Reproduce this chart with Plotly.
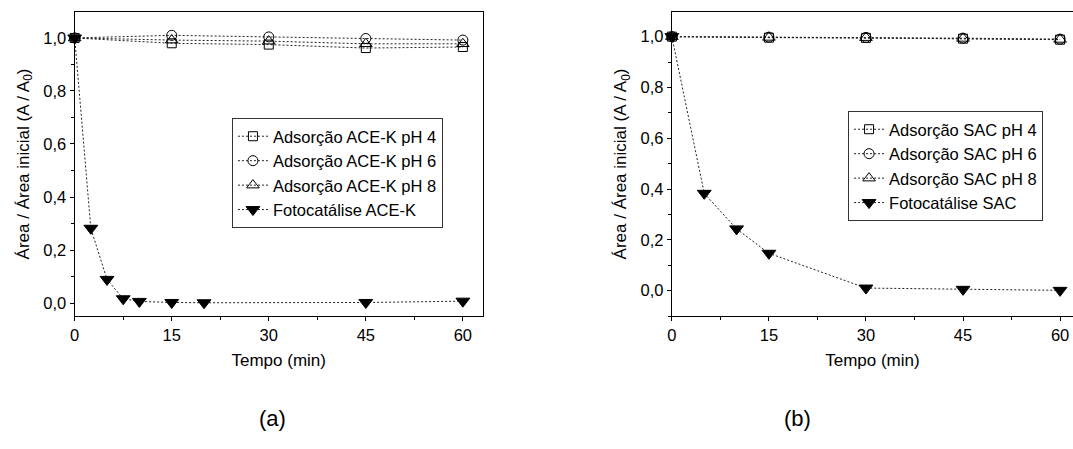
import plotly.graph_objects as go

# ---------------- data ----------------
t_ads = [0, 15, 30, 45, 60]

acek_ph4 = [1.0, 0.980, 0.975, 0.962, 0.966]
acek_ph6 = [1.0, 1.010, 1.004, 0.998, 0.992]
acek_ph8 = [1.0, 0.992, 0.988, 0.978, 0.978]
t_foto_acek = [0, 2.5, 5, 7.5, 10, 15, 20, 45, 60]
foto_acek = [1.0, 0.282, 0.089, 0.016, 0.006, 0.002, 0.001, 0.002, 0.007]

sac_ph4 = [1.0, 0.996, 0.995, 0.992, 0.988]
sac_ph6 = [1.0, 0.998, 0.997, 0.994, 0.990]
sac_ph8 = [1.0, 0.997, 0.996, 0.993, 0.989]
t_foto_sac = [0, 5, 10, 15, 30, 45, 60]
foto_sac = [1.0, 0.383, 0.243, 0.147, 0.010, 0.005, 0.001]

names_a = ["Adsorção ACE-K pH 4", "Adsorção ACE-K pH 6", "Adsorção ACE-K pH 8", "Fotocatálise ACE-K"]
names_b = ["Adsorção SAC pH 4", "Adsorção SAC pH 6", "Adsorção SAC pH 8", "Fotocatálise SAC"]

x_ticks = [0, 15, 30, 45, 60]
y_ticks = [0.0, 0.2, 0.4, 0.6, 0.8, 1.0]

# ---------------- style ----------------
FONT = "Liberation Sans, Arial, sans-serif"
DASH = "2px,2px"
LC = "#222222"
symbols = ["square-open", "circle-open", "triangle-up-open", "triangle-down"]
sizes = [9, 10, 11, 12]

fig = go.Figure()

def add_panel(xs_list, ys_list, names, xa, ya, legend):
    for xs, ys, nm, sym, sz in zip(xs_list, ys_list, names, symbols, sizes):
        fig.add_trace(go.Scatter(
            x=xs, y=ys, name=nm, mode="lines+markers",
            line=dict(color=LC, width=1, dash=DASH),
            marker=dict(symbol=sym, size=sz, color="black",
                        line=dict(color="black", width=1)),
            xaxis=xa, yaxis=ya, legend=legend, cliponaxis=False,
        ))

add_panel([t_ads, t_ads, t_ads, t_foto_acek],
          [acek_ph4, acek_ph6, acek_ph8, foto_acek],
          names_a, "x", "y", "legend")
add_panel([t_ads, t_ads, t_ads, t_foto_sac],
          [sac_ph4, sac_ph6, sac_ph8, foto_sac],
          names_b, "x2", "y2", "legend2")

W, H = 1073, 449
y_dom = [(H - 316) / H, (H - 12) / H]

common_x = dict(
    showline=True, linecolor="black", linewidth=1.3,
    ticks="outside", ticklen=4, tickwidth=1, tickcolor="black",
    tickvals=x_ticks, showgrid=False, zeroline=False,
    minor=dict(dtick=7.5, tick0=0, ticks="outside", ticklen=2.5, tickcolor="black", showgrid=False),
    tickfont=dict(family=FONT, size=16.5, color="black"),
    title=dict(text="Tempo (min)", font=dict(family=FONT, size=17, color="black"), standoff=11),
)
common_y = dict(
    showline=True, linecolor="black", linewidth=1.3,
    ticks="outside", ticklen=4, tickwidth=1, tickcolor="black",
    tickvals=y_ticks, tickformat=".1f", showgrid=False, zeroline=False,
    minor=dict(dtick=0.1, tick0=0, ticks="outside", ticklen=2.5, tickcolor="black", showgrid=False),
    tickfont=dict(family=FONT, size=16.5, color="black"),
    title=dict(text="Área / Área inicial (A / A<sub>0</sub>)",
               font=dict(family=FONT, size=17, color="black"), standoff=9),
    domain=y_dom,
)

fig.update_layout(
    width=W, height=H,
    margin=dict(l=0, r=0, t=0, b=0),
    paper_bgcolor="white", plot_bgcolor="white",
    separators=", ",
    font=dict(family=FONT, size=16, color="black"),
    xaxis=dict(common_x, domain=[70 / W, 480 / W], range=[0, 410 / 6.5], mirror=True, anchor="y"),
    yaxis=dict(common_y, range=[-0.049, 1.098], mirror=True, anchor="x"),
    xaxis2=dict(common_x, domain=[670 / W, 1.0], range=[0, 403 / 6.5], mirror=True, anchor="y2"),
    yaxis2=dict(common_y, range=[-0.1, 1.097], mirror=False, anchor="x2"),
    legend=dict(x=228 / W, y=1 - 118 / H, xanchor="left", yanchor="top",
                bgcolor="white", bordercolor="#333333", borderwidth=1,
                font=dict(family=FONT, size=16.5, color="black"), tracegroupgap=0),
    legend2=dict(x=847 / W, y=1 - 111 / H, xanchor="left", yanchor="top",
                 bgcolor="white", bordercolor="#333333", borderwidth=1,
                 font=dict(family=FONT, size=16.5, color="black"), tracegroupgap=0),
    showlegend=True,
    annotations=[
        dict(text="(a)", x=253 / W, y=1 - 433 / H, xref="paper", yref="paper",
             showarrow=False, font=dict(family=FONT, size=22, color="black")),
        dict(text="(b)", x=812 / W, y=1 - 433 / H, xref="paper", yref="paper",
             showarrow=False, font=dict(family=FONT, size=22, color="black")),
    ],
)

fig.write_html("out.html")
